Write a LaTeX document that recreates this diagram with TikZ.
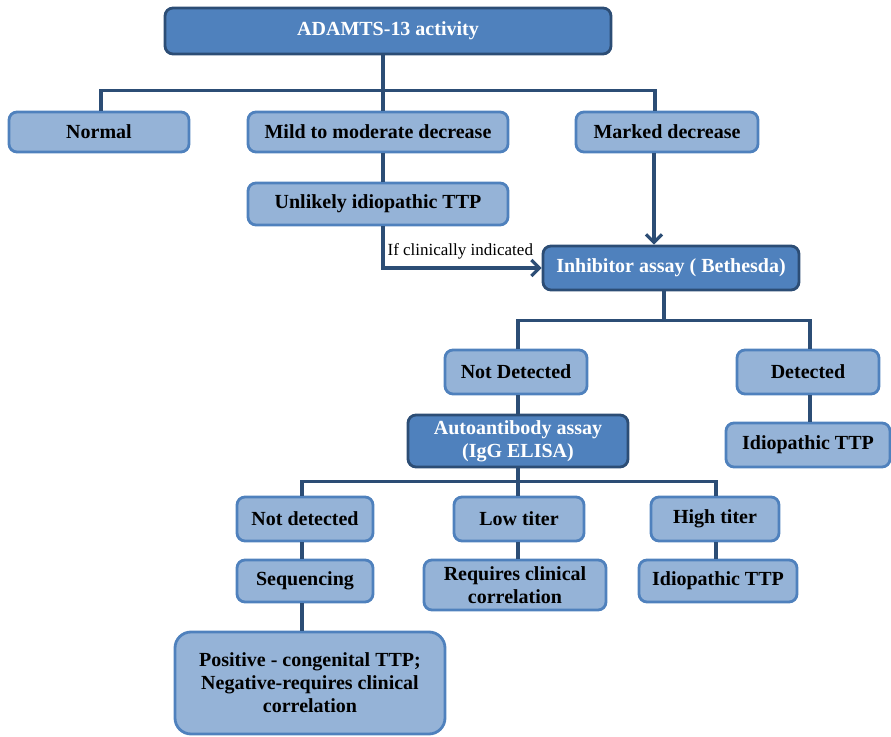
\documentclass[tikz,border=0pt]{standalone}
\usepackage{fontspec}
\setmainfont{Liberation Serif}
\usepackage{xcolor}
\usetikzlibrary{arrows.meta}

\definecolor{boxfill}{HTML}{95B3D7}
\definecolor{boxline}{HTML}{4F81BD}
\definecolor{headfill}{HTML}{4F81BD}
\definecolor{headline}{HTML}{2C4D75}
\definecolor{wire}{HTML}{2C4D75}

\begin{document}
\begin{tikzpicture}[x=0.5pt,y=-0.5pt,
    lightbox/.style={draw=boxline,fill=boxfill,line width=1.4pt,rounded corners=4pt,
      align=center,font=\fontsize{10}{11.5}\selectfont\bfseries,inner sep=2pt},
    headbox/.style={lightbox,draw=headline,fill=headfill,text=white},
    wireline/.style={draw=wire,line width=1.6pt},
    >={Straight Barb[length=4pt,width=8pt]}]
	  \useasboundingbox (0,0) rectangle (891,737);
	  % top level
	  \draw(388, 31) node[headbox,minimum width=223pt,minimum height=23pt](act) {ADAMTS-13 activity};
	  \draw(99, 132) node[lightbox,minimum width=90pt,minimum height=20pt](normal) {Normal};
	  \draw(378, 132) node[lightbox,minimum width=130pt,minimum height=20pt](mild) {Mild to moderate decrease};
	  \draw(667, 132) node[lightbox,minimum width=91pt,minimum height=20pt](marked) {Marked decrease};
	  \draw(378, 204) node[lightbox,minimum width=130pt,minimum height=21pt](unlikely) {Unlikely idiopathic TTP};
	  \draw(671, 268) node[headbox,minimum width=128pt,minimum height=22pt](inhib) {Inhibitor assay ( Bethesda)};
	  \draw[wireline]([xshift=-2.5pt]act.south) -- ++(0, 35) coordinate(topbar);
	  \draw[wireline]([xshift=1pt]normal.north) |- (topbar) -| ([xshift=-6pt]marked.north);
	  \draw[wireline](topbar) -- ([xshift=2.5pt]mild.north);
	  \draw[wireline]([xshift=2.5pt]mild.south) -- ([xshift=2.5pt]unlikely.north);
	  \draw[wireline,->]([xshift=2.5pt]unlikely.south) |- (inhib.west)
	    node[pos=0.5,anchor=south west,font=\fontsize{8.5}{9.5}\selectfont,inner sep=1.5pt,yshift=2pt] {If clinically indicated};
	  \draw[wireline,->]([xshift=-6.5pt]marked.south) -- ([xshift=-8.5pt]inhib.north);
	  % inhibitor branch
	  \draw(516, 372) node[lightbox,minimum width=71pt,minimum height=22pt](notdet) {Not Detected};
	  \draw(808, 372) node[lightbox,minimum width=71pt,minimum height=22pt](det) {Detected};
	  \draw(518, 441) node[headbox,minimum width=110pt,minimum height=26pt](auto) {Autoantibody assay\\(IgG ELISA)};
	  \draw(808, 445) node[lightbox,minimum width=82pt,minimum height=22pt](idio) {Idiopathic TTP};
	  \draw[wireline]([xshift=-3.5pt]inhib.south) -- ++(0, 29) coordinate(midbar);
	  \draw[wireline]([xshift=1pt]notdet.north) |- (midbar) -| ([xshift=1pt]det.north);
	  \draw[wireline]([xshift=1pt]notdet.south) -- (auto.north);
	  \draw[wireline]([xshift=1pt]det.south) -- ([xshift=1pt]idio.north);
	  % antibody branch
	  \draw(305, 519) node[lightbox,minimum width=68pt,minimum height=22pt](notdet2) {Not detected};
	  \draw(519, 519) node[lightbox,minimum width=65pt,minimum height=22pt](low) {Low titer};
	  \draw(715, 519) node[lightbox,minimum width=64pt,minimum height=22pt](high) {High titer};
	  \draw(305, 581) node[lightbox,minimum width=68pt,minimum height=21pt](seq) {Sequencing};
	  \draw(515, 585) node[lightbox,minimum width=91pt,minimum height=25pt](req) {Requires clinical\\correlation};
	  \draw(718, 581) node[lightbox,minimum width=79pt,minimum height=21pt](idio2) {Idiopathic TTP};
	  \draw(310, 683) node[lightbox,minimum width=135pt,minimum height=51pt,rounded corners=8pt](pos) {Positive - congenital TTP;\\Negative-requires clinical\\correlation};
	  \draw[wireline](auto.south) -- ++(0, 13) coordinate(lowbar);
	  \draw[wireline]([xshift=-1.5pt]notdet2.north) |- (lowbar) -| ([xshift=0.5pt]high.north);
	  \draw[wireline](lowbar) -- ([xshift=-0.5pt]low.north);
	  \draw[wireline]([xshift=-1.5pt]notdet2.south) -- ([xshift=-1.5pt]seq.north);
	  \draw[wireline]([xshift=-1.5pt]seq.south) -- ([xshift=-4pt]pos.north);
	  \draw[wireline]([xshift=-0.5pt]low.south) -- ([xshift=1.5pt]req.north);
	  \draw[wireline]([xshift=0.5pt]high.south) -- ([xshift=-1pt]idio2.north);
	\end{tikzpicture}
\end{document}
